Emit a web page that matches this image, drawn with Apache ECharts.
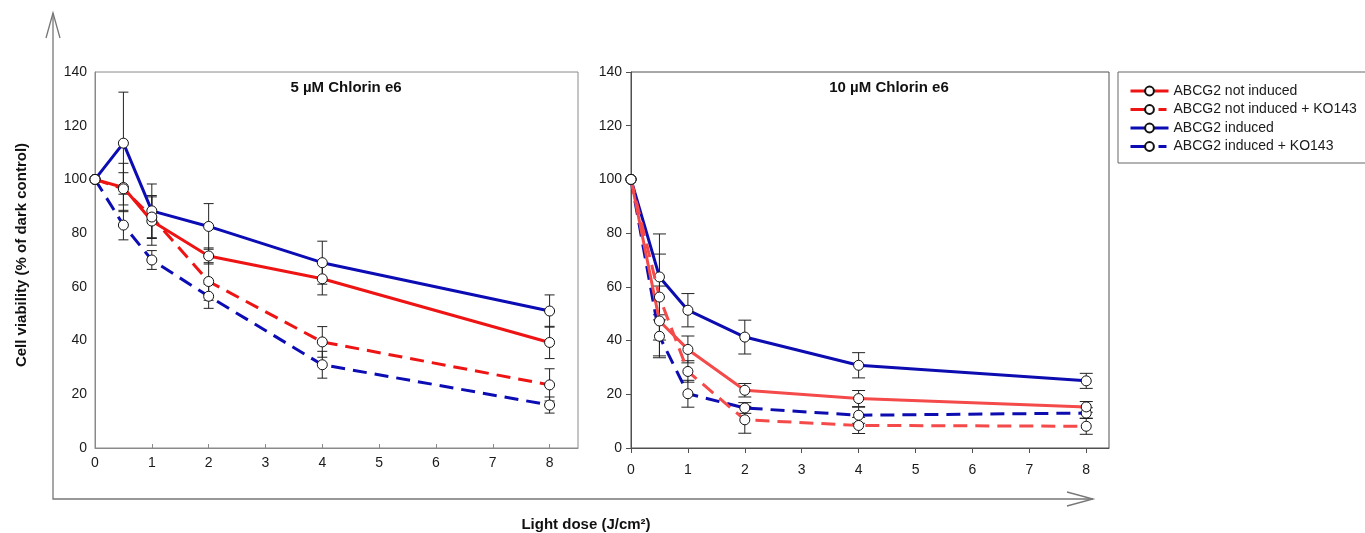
<!DOCTYPE html>
<html>
<head>
<meta charset="utf-8">
<script src="https://cdn.jsdelivr.net/npm/echarts@6/dist/echarts.min.js"></script>
<style>
html,body{margin:0;padding:0;background:#fff;}
#c{width:1365px;height:533px;}
</style>
</head>
<body>
<div id="c"></div>
<script>
// ---- data ----
const doses = [0, 0.5, 1, 2, 4, 8];
const seriesNames = ['ABCG2 not induced', 'ABCG2 not induced + KO143', 'ABCG2 induced', 'ABCG2 induced + KO143'];
const panelTitles = ['5 µM Chlorin e6', '10 µM Chlorin e6'];
const yTicks = [0, 20, 40, 60, 80, 100, 120, 140];
const xTicks = [0, 1, 2, 3, 4, 5, 6, 7, 8];

// 5 µM Chlorin e6
const p5_notInduced      = [100, 97, 84.5, 71.5, 63, 39.3];
const p5_notInduced_err  = [0, 9, 9, 3, 6, 6];
const p5_notInducedKO    = [100, 96.5, 86, 62, 39.5, 23.5];
const p5_notInducedKO_err= [0, 6, 8, 7, 5.7, 6];
const p5_induced         = [100, 113.5, 88.3, 82.5, 69, 51];
const p5_induced_err     = [0, 19, 10, 8.5, 8, 6];
const p5_inducedKO       = [100, 83, 70, 56.5, 31, 16];
const p5_inducedKO_err   = [0, 5.5, 3.5, 4.5, 5, 3];

// 10 µM Chlorin e6
const p10_notInduced      = [100, 47.3, 36.7, 21.5, 18.4, 15.3];
const p10_notInduced_err  = [0, 13, 5, 2.5, 3, 2];
const p10_notInducedKO    = [100, 56.2, 28.5, 10.5, 8.4, 8.1];
const p10_notInducedKO_err= [0, 16, 4, 5, 3, 3];
const p10_induced         = [100, 63.7, 51.3, 41.3, 30.8, 25];
const p10_induced_err     = [0, 16, 6.2, 6.3, 4.7, 2.8];
const p10_inducedKO       = [100, 41.6, 20.2, 14.9, 12.2, 13];
const p10_inducedKO_err   = [0, 8, 5, 2, 3, 2];

// ---- chart ----
const FONT = 'Liberation Sans, Arial, sans-serif';
const chart = echarts.init(document.getElementById('c'), null, {renderer: 'canvas'});

const panels = [
  {vals: [p5_notInduced, p5_notInducedKO, p5_induced, p5_inducedKO],
   errs: [p5_notInduced_err, p5_notInducedKO_err, p5_induced_err, p5_inducedKO_err],
   red: '#ee1414', blue: '#0c0cb4', cap: 5},
  {vals: [p10_notInduced, p10_notInducedKO, p10_induced, p10_inducedKO],
   errs: [p10_notInduced_err, p10_notInducedKO_err, p10_induced_err, p10_inducedKO_err],
   red: '#f44a4a', blue: '#0c0cb0', cap: 6.5}
];

const series = [];
panels.forEach((p, pi) => {
  const errData = [];
  p.vals.forEach((v, si) => {
    v.forEach((y, i) => {
      const e = p.errs[si][i];
      if (e > 0) errData.push([doses[i], y - e, y + e]);
    });
  });
  series.push({
    type: 'custom',
    xAxisIndex: pi, yAxisIndex: pi,
    z: 1,
    silent: true,
    data: errData,
    renderItem: function (params, api) {
      const lo = api.coord([api.value(0), api.value(1)]);
      const hi = api.coord([api.value(0), api.value(2)]);
      const w = p.cap;
      const st = {stroke: '#222', lineWidth: 1};
      return {type: 'group', children: [
        {type: 'line', shape: {x1: lo[0], y1: lo[1], x2: hi[0], y2: hi[1]}, style: st},
        {type: 'line', shape: {x1: lo[0]-w, y1: lo[1], x2: lo[0]+w, y2: lo[1]}, style: st},
        {type: 'line', shape: {x1: hi[0]-w, y1: hi[1], x2: hi[0]+w, y2: hi[1]}, style: st}
      ]};
    }
  });
  p.vals.forEach((v, si) => {
    const color = si < 2 ? p.red : p.blue;
    const dashed = si % 2 === 1;
    series.push({
      type: 'line',
      name: seriesNames[si],
      xAxisIndex: pi, yAxisIndex: pi,
      z: 2 + (si < 2 ? 1 : 0),
      data: v.map((y, i) => [doses[i], y]),
      symbol: 'circle',
      symbolSize: 10,
      showAllSymbol: true,
      color: color,
      itemStyle: {color: '#ffffff', borderColor: '#111', borderWidth: 1},
      lineStyle: {color: color, width: 3, type: dashed ? [14, 8] : 'solid'},
      emphasis: {disabled: true},
      animation: false
    });
  });
});

const legendData = seriesNames.map((n, i) => ({
  name: n,
  lineStyle: {width: 3, type: i % 2 === 1 ? [18, 10, 8, 10] : 'solid'}
}));

const option = {
  animation: false,
  backgroundColor: '#ffffff',
  textStyle: {fontFamily: FONT},
  grid: [
    {left: 95, top: 72, width: 483, height: 376, show: true, borderColor: '#8a8a8a', borderWidth: 1, backgroundColor: 'transparent'},
    {left: 631, top: 72, width: 478, height: 376, show: true, borderColor: '#505050', borderWidth: 1, backgroundColor: 'transparent'}
  ],
  xAxis: [
    {type: 'value', gridIndex: 0, min: 0, max: 8.5,
     axisLine: {show: true, onZero: false, lineStyle: {color: '#8a8a8a', width: 1}},
     axisTick: {show: true, inside: true, length: 4, lineStyle: {color: '#8a8a8a'}, customValues: xTicks},
     axisLabel: {color: '#1a1a1a', fontSize: 14, fontFamily: FONT, margin: 8, customValues: xTicks},
     splitLine: {show: false}},
    {type: 'value', gridIndex: 1, min: 0, max: 8.4,
     axisLine: {show: true, onZero: false, lineStyle: {color: '#505050', width: 1}},
     axisTick: {show: true, inside: false, length: 5, lineStyle: {color: '#505050'}, customValues: xTicks},
     axisLabel: {color: '#1a1a1a', fontSize: 14, fontFamily: FONT, margin: 15, customValues: xTicks},
     splitLine: {show: false}}
  ],
  yAxis: [
    {type: 'value', gridIndex: 0, min: yTicks[0], max: yTicks[yTicks.length-1], interval: 20,
     axisLine: {show: true, lineStyle: {color: '#8a8a8a', width: 1}},
     axisTick: {show: false},
     axisLabel: {color: '#1a1a1a', fontSize: 14, fontFamily: FONT, margin: 8},
     splitLine: {show: false}},
    {type: 'value', gridIndex: 1, min: yTicks[0], max: yTicks[yTicks.length-1], interval: 20,
     axisLine: {show: true, lineStyle: {color: '#505050', width: 1}},
     axisTick: {show: true, inside: false, length: 5, lineStyle: {color: '#505050'}},
     axisLabel: {color: '#1a1a1a', fontSize: 14, fontFamily: FONT, margin: 9},
     splitLine: {show: false}}
  ],
  legend: {
    orient: 'vertical',
    left: 1124, top: 79,
    itemWidth: 38, itemHeight: 11, itemGap: 4.5,
    data: legendData,
    textStyle: {color: '#1a1a1a', fontSize: 14, fontFamily: FONT},
    selectedMode: false
  },
  graphic: [
    {type: 'rect', shape: {x: 1118, y: 72, width: 260, height: 91}, style: {fill: 'none', stroke: '#666', lineWidth: 1}, z: 0},
    {type: 'polyline', shape: {points: [[53, 13], [53, 499], [1093, 499]]}, style: {fill: 'none', stroke: '#777', lineWidth: 1.3}},
    {type: 'polyline', shape: {points: [[46, 38], [53, 13], [60, 38]]}, style: {fill: 'none', stroke: '#777', lineWidth: 1.3}},
    {type: 'polyline', shape: {points: [[1067, 492], [1093, 499], [1067, 506]]}, style: {fill: 'none', stroke: '#777', lineWidth: 1.3}},
    {type: 'text', x: 346, y: 88, style: {text: panelTitles[0], font: 'bold 15px ' + FONT, fill: '#111', textAlign: 'center', textVerticalAlign: 'middle'}},
    {type: 'text', x: 889, y: 88, style: {text: panelTitles[1], font: 'bold 15px ' + FONT, fill: '#111', textAlign: 'center', textVerticalAlign: 'middle'}},
    {type: 'text', x: 22, y: 255, rotation: Math.PI / 2, style: {text: 'Cell viability (% of dark control)', font: 'bold 15px ' + FONT, fill: '#111', textAlign: 'center', textVerticalAlign: 'middle'}},
    {type: 'text', x: 586, y: 525, style: {text: 'Light dose (J/cm²)', font: 'bold 15px ' + FONT, fill: '#111', textAlign: 'center', textVerticalAlign: 'middle'}}
  ],
  series: series
};
chart.setOption(option);
</script>
</body>
</html>
